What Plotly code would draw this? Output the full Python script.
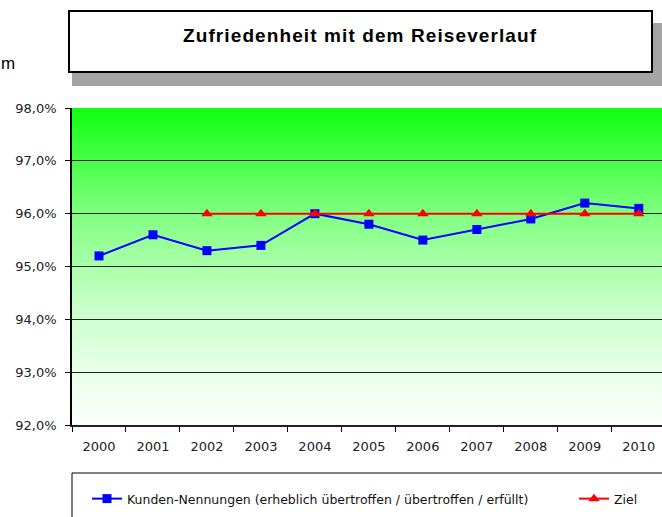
import plotly.graph_objects as go

years = ["2000", "2001", "2002", "2003", "2004", "2005", "2006", "2007", "2008", "2009", "2010"]
kunden = [0.952, 0.956, 0.953, 0.954, 0.960, 0.958, 0.955, 0.957, 0.959, 0.962, 0.961]
ziel_years = ["2002", "2003", "2004", "2005", "2006", "2007", "2008", "2009", "2010"]
ziel = [0.960, 0.960, 0.960, 0.960, 0.960, 0.960, 0.960, 0.960, 0.960]

title_text = "Zufriedenheit mit dem Reiseverlauf"
name_kunden = "Kunden-Nennungen (erheblich übertroffen / übertroffen / erfüllt)"
name_ziel = "Ziel"

W, H = 662, 517
L, T, B = 72, 108, 92

fig = go.Figure()
fig.add_trace(go.Scatter(
    x=years, y=kunden, name=name_kunden, mode="lines+markers",
    line=dict(color="#0000ff", width=2),
    marker=dict(symbol="square", size=9, color="#0000ff"),
    legend="legend",
))
fig.add_trace(go.Scatter(
    x=ziel_years, y=ziel, name=name_ziel, mode="lines+markers",
    line=dict(color="#ff0000", width=2),
    marker=dict(symbol="triangle-up", size=10, color="#ff0000"),
    legend="legend2",
))

shapes = []
# gradient background of plot area
stops = [(0.0, (16, 255, 16)), (1/6, (72, 255, 72)), (2/6, (128, 255, 128)),
         (3/6, (170, 255, 170)), (4/6, (208, 255, 208)), (5/6, (232, 255, 232)),
         (1.0, (252, 255, 252))]
def col_at(t):
    for i in range(len(stops) - 1):
        a, ca = stops[i]
        b, cb = stops[i + 1]
        if a <= t <= b:
            f = (t - a) / (b - a)
            return "rgb(%d,%d,%d)" % tuple(round(ca[k] + (cb[k] - ca[k]) * f) for k in range(3))
    return "rgb(%d,%d,%d)" % stops[-1][1]
N = 80
for i in range(N):
    t = (i + 0.5) / N
    shapes.append(dict(type="rect", xref="x domain", yref="y domain",
                       x0=0, x1=1, y0=1 - i / N, y1=1 - (i + 1) / N - 0.002,
                       fillcolor=col_at(t), line=dict(width=0), layer="below"))

PW = W - L
PH = H - T - B
def xp(x):
    return (x - L) / PW
def yp(y):
    return (H - B - y) / PH

# title box shadow
shapes.append(dict(type="rect", xref="paper", yref="paper",
                   x0=xp(72), x1=xp(662), y0=yp(86), y1=yp(73),
                   fillcolor="#a4a4a4", line=dict(width=0), layer="above"))
shapes.append(dict(type="rect", xref="paper", yref="paper",
                   x0=xp(653), x1=xp(662), y0=yp(86), y1=yp(23),
                   fillcolor="#a4a4a4", line=dict(width=0), layer="above"))
# title box
shapes.append(dict(type="rect", xref="paper", yref="paper",
                   x0=xp(69), x1=xp(652), y0=yp(72), y1=yp(11),
                   fillcolor="white", line=dict(color="black", width=2), layer="above"))
# legend box
shapes.append(dict(type="rect", xref="paper", yref="paper",
                   x0=xp(72), x1=xp(680), y0=yp(530), y1=yp(473),
                   fillcolor="white", line=dict(color="black", width=1), layer="above"))

leg_font = dict(family="DejaVu Sans", size=12.5, color="#111111")
fig.update_layout(
    width=W, height=H,
    margin=dict(l=L, r=0, t=T, b=B, pad=0),
    paper_bgcolor="white", plot_bgcolor="white",
    font=dict(family="DejaVu Sans", size=13, color="#222222"),
    separators=",.",
    shapes=shapes,
    showlegend=True,
    legend=dict(xref="container", yref="container", x=87 / W, y=1 - 499 / H,
                xanchor="left", yanchor="middle", orientation="h",
                bgcolor="rgba(0,0,0,0)", font=leg_font),
    legend2=dict(xref="container", yref="container", x=574 / W, y=1 - 499 / H,
                 xanchor="left", yanchor="middle", orientation="h",
                 bgcolor="rgba(0,0,0,0)", font=leg_font),
    annotations=[
        dict(text="<b><span style='letter-spacing:1.1px'>" + title_text + "</span></b>",
             xref="paper", yref="paper", x=xp(360), y=yp(35),
             showarrow=False, xanchor="center", yanchor="middle",
             font=dict(family="Liberation Sans", size=19, color="black")),
        dict(text="m", xref="paper", yref="paper", x=xp(-1), y=yp(63),
             showarrow=False, xanchor="left", yanchor="middle",
             font=dict(family="Liberation Sans", size=17, color="black")),
    ],
)
fig.update_xaxes(
    type="category", range=[-0.5, 10.43], tickson="boundaries",
    ticks="outside", ticklen=5, tickcolor="black", tickwidth=1,
    showline=True, linecolor="#222222", linewidth=2,
    showgrid=False, ticklabelstandoff=8,
    tickfont=dict(family="DejaVu Sans", size=13, color="#222222"),
)
fig.update_yaxes(
    range=[0.92, 0.98], dtick=0.01, tickformat=".1%",
    ticks="outside", ticklen=5, tickcolor="black", tickwidth=1,
    showline=True, linecolor="black", linewidth=1.5,
    showgrid=True, gridcolor="#222222", gridwidth=1,
    zeroline=False, ticklabelstandoff=6,
    tickfont=dict(family="DejaVu Sans", size=13, color="#222222"),
)

fig.write_html("out.html", config={"displayModeBar": False},
               post_script="document.body.style.margin='0';")
